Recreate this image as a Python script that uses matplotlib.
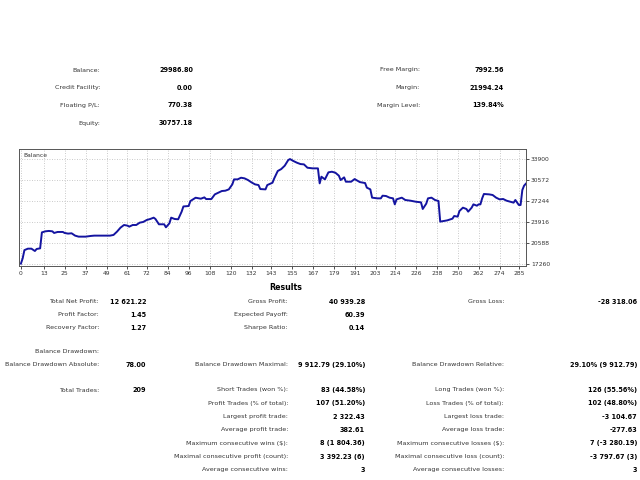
import numpy as np
import matplotlib.pyplot as plt

# balance curve (deal number, balance)
deal = [0, 1, 2, 4, 6, 8, 9, 11, 12, 14, 16, 18, 19, 21, 24, 25, 27, 29, 31, 33,
        37, 40, 42, 51, 53, 55, 57, 59, 61, 62, 64, 66, 68, 70, 72, 74, 76, 77, 79, 82,
        83, 85, 86, 88, 90, 92, 93, 96, 97, 100, 102, 103, 105, 106, 109, 111, 113, 115, 117, 119,
        121, 122, 124, 126, 128, 130, 132, 134, 136, 137, 140, 141, 144, 145, 147, 149, 151, 153, 154, 156,
        158, 160, 162, 164, 167, 170, 171, 172, 174, 176, 178, 180, 182, 183, 185, 186, 189, 191, 194, 197,
        198, 200, 201, 204, 206, 207, 209, 211, 213, 214, 215, 218, 220, 223, 226, 229, 230, 232, 233, 235,
        237, 239, 240, 242, 244, 247, 248, 250, 251, 253, 255, 256, 258, 259, 261, 262, 263, 264, 265, 268,
        270, 272, 274, 276, 278, 280, 282, 283, 285, 286, 287, 288, 289]
balance = [17366, 18200, 19500, 19730, 19730, 19360, 19680, 19780, 22300, 22470, 22530, 22470, 22210, 22370, 22370, 22210, 22110, 22160, 21790, 21630,
           21630, 21740, 21790, 21790, 21900, 22420, 23050, 23470, 23370, 23210, 23470, 23470, 23840, 23950, 24260, 24420, 24630, 24420, 23580, 23580,
           23100, 23740, 24630, 24420, 24370, 25580, 26400, 26470, 27256, 27780, 27680, 27625, 27835, 27570, 27570, 28310, 28570, 28840, 28890, 29100,
           29890, 30680, 30680, 30940, 30840, 30570, 30200, 29890, 29780, 29150, 29100, 29780, 30150, 30840, 32000, 32310, 32840, 33730, 33890, 33575,
           33310, 33100, 33050, 32520, 32420, 32420, 30050, 31100, 30680, 31790, 31890, 31730, 31260, 30570, 31000, 30310, 30310, 30730, 30250, 30100,
           29370, 29100, 27790, 27680, 27680, 28100, 28050, 27790, 27680, 26730, 27520, 27790, 27420, 27310, 27150, 27050, 26000, 26840, 27680, 27790,
           27420, 27260, 24000, 24100, 24200, 24470, 24890, 24790, 25680, 26210, 26000, 25580, 26210, 26730, 26520, 26730, 26730, 27680, 28370, 28310,
           28210, 27790, 27520, 27580, 27310, 27150, 27000, 27420, 26630, 26630, 29000, 29680, 29987]

xticks = [0, 13, 25, 37, 49, 61, 72, 84, 96, 108, 120, 132, 143, 155, 167, 179, 191,
          203, 214, 226, 238, 250, 262, 274, 285]
yticks = [17260, 20588, 23916, 27244, 30572, 33900]

# account summary
acc_left = [("Balance:", "29986.80"), ("Credit Facility:", "0.00"),
            ("Floating P/L:", "770.38"), ("Equity:", "30757.18")]
acc_right = [("Free Margin:", "7992.56"), ("Margin:", "21994.24"),
             ("Margin Level:", "139.84%")]

# results table
res_col1 = [("Total Net Profit:", "12 621.22"), ("Profit Factor:", "1.45"),
            ("Recovery Factor:", "1.27")]
res_col2 = [("Gross Profit:", "40 939.28"), ("Expected Payoff:", "60.39"),
            ("Sharpe Ratio:", "0.14")]
res_col3 = [("Gross Loss:", "-28 318.06")]
dd_row = [("Balance Drawdown Absolute:", "78.00"),
          ("Balance Drawdown Maximal:", "9 912.79 (29.10%)"),
          ("Balance Drawdown Relative:", "29.10% (9 912.79)")]
trades_mid = [("Short Trades (won %):", "83 (44.58%)"),
              ("Profit Trades (% of total):", "107 (51.20%)"),
              ("Largest profit trade:", "2 322.43"),
              ("Average profit trade:", "382.61"),
              ("Maximum consecutive wins ($):", "8 (1 804.36)"),
              ("Maximal consecutive profit (count):", "3 392.23 (6)"),
              ("Average consecutive wins:", "3")]
trades_right = [("Long Trades (won %):", "126 (55.56%)"),
                ("Loss Trades (% of total):", "102 (48.80%)"),
                ("Largest loss trade:", "-3 104.67"),
                ("Average loss trade:", "-277.63"),
                ("Maximum consecutive losses ($):", "7 (-3 280.19)"),
                ("Maximal consecutive loss (count):", "-3 797.67 (3)"),
                ("Average consecutive losses:", "3")]

W, H = 640, 480
fig = plt.figure(figsize=(6.4, 4.8), dpi=100)
plt.rcParams['font.family'] = 'DejaVu Sans'
FS = 4.55
FSB = 4.7
TXT = "#333333"


def put(x, y, s, bold=False, size=None, ha="right"):
    if size is None:
        size = FSB if bold else FS
    fig.text(x / W, 1 - y / H, s, ha=ha, va="center", fontsize=size,
             fontweight="bold" if bold else "normal",
             color="black" if bold else TXT)


def pairs(rows, xl, xv, y0, dy):
    for k, (lab, val) in enumerate(rows):
        put(xl, y0 + k * dy, lab)
        put(xv, y0 + k * dy, val, bold=True)


pairs(acc_left, 100, 193, 70, 17.7)
pairs(acc_right, 420, 504, 70, 17.7)

put(286, 287, "Results", bold=True, size=5.7, ha="center")
pairs(res_col1, 99, 146, 301.5, 13.2)
pairs(res_col2, 288, 365, 301.5, 13.2)
pairs(res_col3, 504, 637, 301.5, 13.2)
put(99, 351.5, "Balance Drawdown:")
pairs(dd_row[:1], 99, 146, 365, 13.2)
pairs(dd_row[1:2], 288, 365, 365, 13.2)
pairs(dd_row[2:], 504, 637, 365, 13.2)
pairs([("Total Trades:", "209")], 99, 146, 390, 13.3)
pairs(trades_mid, 288, 365, 390, 13.3)
pairs(trades_right, 504, 637, 390, 13.3)

# balance chart
ax = fig.add_axes([19 / W, 1 - 266 / H, 507 / W, 117 / H])
ax.plot(deal, balance, color="#1414a0", lw=1.4)
ax.set_xlim(-1.1, 289.1)
ax.set_ylim(16990, 35480)
ax.set_xticks(xticks)
ax.set_yticks(yticks)
ax.yaxis.tick_right()
ax.tick_params(labelsize=4.3, length=2, width=0.6, pad=1.5, colors="#333333")
ax.grid(True, color="#b8b8b8", linestyle=(0, (1, 2)), lw=0.6)
for sp in ax.spines.values():
    sp.set_color("#555555")
    sp.set_linewidth(0.7)
ax.text(0.008, 0.965, "Balance", transform=ax.transAxes, fontsize=4.3,
        va="top", ha="left", color="#333333")

fig.savefig("out.png", dpi=100)
